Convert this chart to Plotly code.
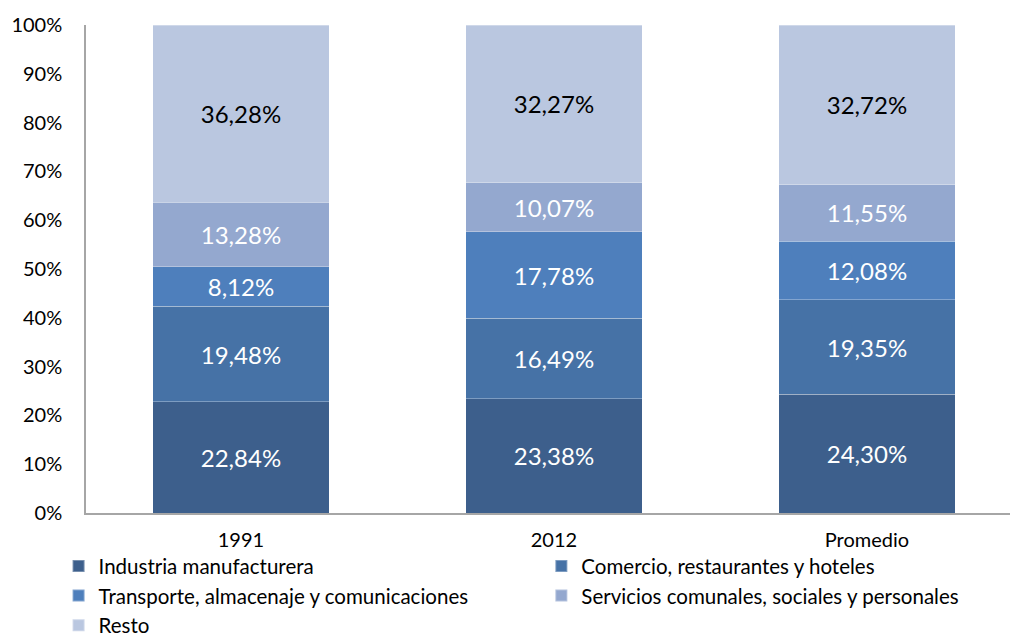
import plotly.graph_objects as go

# Participación sectorial por periodo (%)
categorias = ["1991", "2012", "Promedio"]
industria = [22.84, 23.38, 24.30]
comercio = [19.48, 16.49, 19.35]
transporte = [8.12, 17.78, 12.08]
servicios = [13.28, 10.07, 11.55]
resto = [36.28, 32.27, 32.72]

# (nombre, valores, color, color de etiqueta, columna de leyenda)
series = [
    ("Industria manufacturera", industria, "#3D5F8C", "white", "legend"),
    ("Comercio, restaurantes y hoteles", comercio, "#4672A6", "white", "legend2"),
    ("Transporte, almacenaje y comunicaciones", transporte, "#4E7FBC", "white", "legend"),
    ("Servicios comunales, sociales y personales", servicios, "#94A8CF", "white", "legend2"),
    ("Resto", resto, "#BAC7E0", "black", "legend"),
]

FONT = "Lato"

fig = go.Figure()
for nombre, valores, color, color_texto, leyenda in series:
    fig.add_trace(go.Bar(
        x=categorias,
        y=valores,
        name=nombre,
        legend=leyenda,
        marker=dict(color=color, line=dict(color="rgba(255,255,255,0.3)", width=1)),
        text=[f"{v:.2f}%".replace(".", ",") for v in valores],
        textposition="inside",
        insidetextanchor="middle",
        textangle=0,
        constraintext="none",
        textfont=dict(family=FONT, size=24, color=color_texto),
        width=0.565,
    ))

# Cada columna de la leyenda es una leyenda horizontal con una entrada por fila
leyenda_base = dict(
    orientation="h",
    xref="container",
    yref="container",
    xanchor="left",
    yanchor="top",
    y=0.14,
    entrywidth=600,
    entrywidthmode="pixels",
    traceorder="normal",
    font=dict(family=FONT, size=20.5, color="black"),
    itemsizing="constant",
    tracegroupgap=0,
    bgcolor="rgba(0,0,0,0)",
)

fig.update_layout(
    barmode="stack",
    width=1010,
    height=635,
    margin=dict(l=86, r=0, t=25, b=122),
    paper_bgcolor="white",
    plot_bgcolor="white",
    font=dict(family=FONT, size=20, color="black"),
    showlegend=True,
    legend=dict(leyenda_base, x=0.058),
    legend2=dict(leyenda_base, x=0.536),
)

fig.update_xaxes(
    type="category",
    range=[-0.495, 2.457],
    showline=True,
    linecolor="#A6A6A6",
    linewidth=1.5,
    ticks="",
    showgrid=False,
    automargin=False,
    ticklabelstandoff=8,
    tickfont=dict(family=FONT, size=20, color="black"),
)
fig.update_yaxes(
    range=[0, 100],
    tickvals=[0, 10, 20, 30, 40, 50, 60, 70, 80, 90, 100],
    ticktext=[f"{v}%" for v in range(0, 101, 10)],
    showline=True,
    linecolor="#A6A6A6",
    linewidth=1.5,
    ticks="",
    showgrid=False,
    zeroline=False,
    automargin=False,
    ticklabelstandoff=18,
    tickfont=dict(family=FONT, size=20, color="black"),
)

fig.write_html("out.html")
